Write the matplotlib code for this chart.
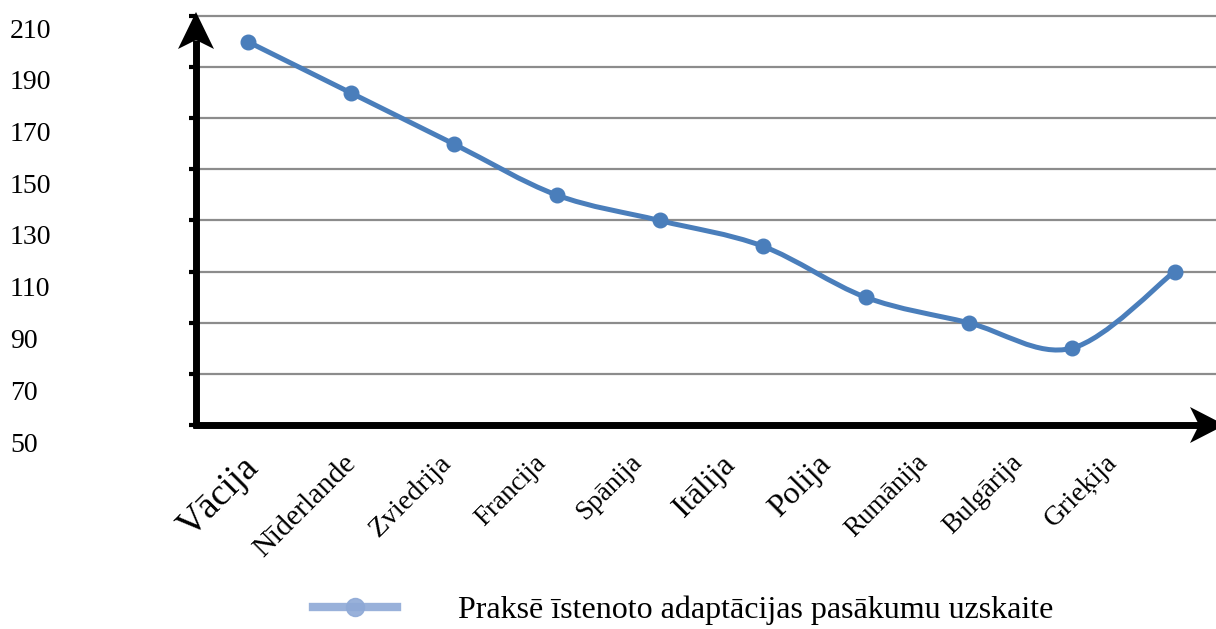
import matplotlib.pyplot as plt
from matplotlib.path import Path
from matplotlib.patches import PathPatch, Polygon
from matplotlib.lines import Line2D

plt.rcParams['font.family'] = ['Liberation Serif', 'DejaVu Serif']

# dati
countries = ["Vācija", "Nīderlande", "Zviedrija", "Francija", "Spānija",
             "Itālija", "Polija", "Rumānija", "Bulgārija", "Grieķija"]
values = [210, 190, 170, 150, 140, 130, 110, 100, 90, 120]
y_labels = [210, 190, 170, 150, 130, 110, 90, 70, 50]
series_name = "Praksē īstenoto adaptācijas pasākumu uzskaite"

# nosaukumu izmēri (oriģinālā tie nav vienādi)
label_sizes = [27, 21.5, 20.5, 19.5, 19.5, 23, 23, 19.5, 19.5, 20]

W, H = 1216, 629
blue = "#4a7ebb"


def fpos(px, py):
    # pikseļi (no augšas) -> figūras daļas
    return (px / W, 1 - py / H)


fig = plt.figure(figsize=(W / 100, H / 100), dpi=100)
ax = fig.add_axes([196 / W, 1 - 425 / H, 1 - 196 / W, (425 - 16) / H])
ax.set_xlim(-0.5, -0.5 + (W - 196) / 103)
ax.set_ylim(60, 220)

for s in ax.spines.values():
    s.set_visible(False)
ax.set_xticks([])
ax.set_yticks(range(60, 221, 20))
ax.set_yticklabels([])
ax.tick_params(axis='y', length=5, width=3, color='black', direction='out')
for v in range(80, 221, 20):
    ax.axhline(v, color='#8c8c8c', lw=1.6, clip_on=False, zorder=1)

# gluda līnija (Bezjē līknes caur punktiem)
x = list(range(len(values)))
pts = list(zip(x, values))
verts = [pts[0]]
codes = [Path.MOVETO]
for i in range(len(pts) - 1):
    p0 = pts[i - 1] if i > 0 else pts[i]
    p1 = pts[i]
    p2 = pts[i + 1]
    p3 = pts[i + 2] if i + 2 < len(pts) else pts[i + 1]
    c1 = (p1[0] + (p2[0] - p0[0]) / 6, p1[1] + (p2[1] - p0[1]) / 6)
    c2 = (p2[0] - (p3[0] - p1[0]) / 6, p2[1] - (p3[1] - p1[1]) / 6)
    verts += [c1, c2, p2]
    codes += [Path.CURVE4] * 3
ax.add_patch(PathPatch(Path(verts, codes), facecolor='none', edgecolor=blue,
                       lw=3.6, capstyle='round', joinstyle='round', zorder=3))
ax.plot(x, values, 'o', color=blue, markersize=10.5, zorder=4)

# asis ar bultām
fig.add_artist(Line2D([196 / W, 196 / W], [1 - 428 / H, 1 - 40 / H],
                      color='black', lw=5, solid_capstyle='butt'))
fig.add_artist(Line2D([193 / W, 1200 / W], [1 - 425 / H, 1 - 425 / H],
                      color='black', lw=5, solid_capstyle='butt'))
fig.add_artist(Polygon([fpos(196, 12), fpos(214, 49), fpos(196, 40),
                        fpos(178, 49)], closed=True, color='black', lw=0))
fig.add_artist(Polygon([fpos(1225, 425), fpos(1190, 407), fpos(1199, 425),
                        fpos(1190, 443)], closed=True, color='black', lw=0))

# y vērtību uzraksti (oriģinālā nobīdīti no līnijām)
for L in y_labels:
    py = 31 + (210 - L) / 20 * 51.75
    fig.text(10 / W, 1 - py / H, str(L), ha='left', va='center', fontsize=20)

# valstu nosaukumi
for i, name in enumerate(countries):
    px = 266 + 95.2 * i
    fig.text(px / W, 1 - 450 / H, name, rotation=45, ha='right', va='top',
             fontsize=label_sizes[i])

# leģenda
handle = Line2D([], [], color='#8ea9d6', lw=6, marker='o', markersize=13,
                alpha=0.9)
fig.legend(handles=[handle], labels=[series_name], loc='center left',
           bbox_to_anchor=fpos(313, 610), frameon=False, fontsize=23,
           handlelength=2.63, handletextpad=1.9, borderpad=0,
           borderaxespad=0)

fig.savefig('out.png', dpi=100)
